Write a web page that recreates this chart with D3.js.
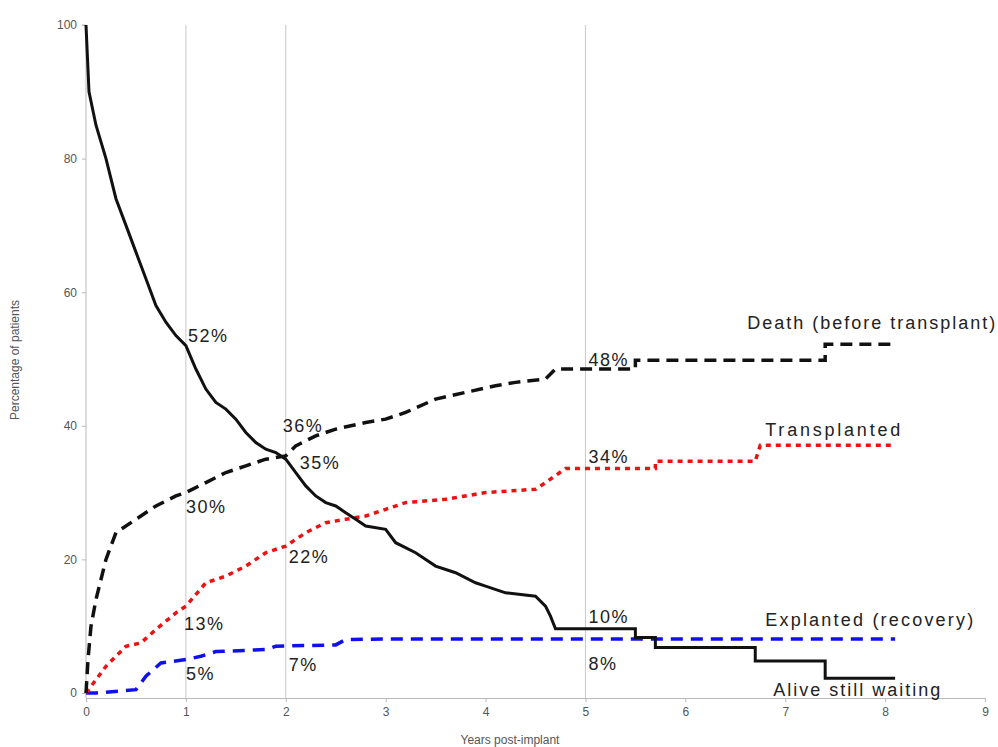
<!DOCTYPE html>
<html><head><meta charset="utf-8">
<script src="https://cdn.jsdelivr.net/npm/d3@7"></script>
<style>body{margin:0;background:#fff}svg{font-family:Arial,"Liberation Sans",sans-serif}</style>
</head><body><svg id="c" width="998" height="747"></svg>
<script>
const xTicks=[0,1,2,3,4,5,6,7,8,9];
const yTicks=[0,20,40,60,80,100];
const gridYears=[1,2,5];
const alive=[[0,100],[0.03,90],[0.1,85],[0.2,80],[0.3,74],[0.4,70],[0.5,66],[0.6,62],[0.7,58],[0.8,55.5],[0.9,53.5],[1.0,52],[1.1,48.5],[1.2,45.5],[1.3,43.5],[1.4,42.5],[1.5,41],[1.6,39],[1.7,37.5],[1.8,36.5],[1.9,36],[2.0,35],[2.1,33],[2.2,31],[2.3,29.5],[2.4,28.5],[2.5,28],[2.6,27],[2.7,26],[2.8,25],[3.0,24.5],[3.1,22.5],[3.3,21],[3.5,19],[3.7,18],[3.9,16.5],[4.0,16],[4.2,15],[4.5,14.5],[4.6,13],[4.65,11.5],[4.7,9.6],[5.5,9.6],[5.5,8.3],[5.7,8.3],[5.7,6.8],[6.7,6.8],[6.7,4.8],[7.4,4.8],[7.4,2.2],[8.1,2.2]];
const death=[[0,0],[0.02,5],[0.05,10],[0.1,14],[0.2,20],[0.3,24],[0.5,26],[0.7,28],[0.9,29.5],[1.0,30],[1.2,31.5],[1.4,33],[1.6,34],[1.8,35],[2.0,35.5],[2.1,37],[2.3,38.5],[2.5,39.5],[2.8,40.5],[3.0,41],[3.2,42],[3.5,44],[3.8,45],[4.1,46],[4.3,46.5],[4.6,47],[4.7,48.5],[5.5,48.5],[5.5,49.8],[7.4,49.8],[7.4,52.2],[8.1,52.2]];
const transplanted=[[0,0],[0.2,4],[0.4,7],[0.55,7.5],[0.7,9.5],[0.9,12],[1.0,13],[1.2,16.5],[1.4,17.5],[1.6,19],[1.8,21],[2.0,22],[2.2,24],[2.4,25.5],[2.6,26],[2.8,26.5],[3.0,27.5],[3.2,28.5],[3.6,29],[4.0,30],[4.5,30.5],[4.6,31.5],[4.8,33.6],[5.7,33.6],[5.7,34.7],[6.7,34.7],[6.75,37.1],[8.1,37.1]];
const explanted=[[0,0],[0.1,0],[0.5,0.5],[0.6,2.5],[0.75,4.5],[1.0,5],[1.15,5.5],[1.3,6.2],[1.8,6.5],[1.9,7],[2.5,7.2],[2.6,8],[3.0,8.1],[8.1,8.1]];
const pctLabels=[["52%",1.02,52.5],["36%",1.97,39],["35%",2.14,33.5],["30%",1.0,27],["22%",2.03,19.5],["13%",0.98,9.5],["5%",1.0,2],["7%",2.03,3.3],["48%",5.03,49],["34%",5.03,34.5],["10%",5.03,10.5],["8%",5.03,3.5]];
const seriesLabels=[["Death (before transplant)",6.62,54.5,248],["Transplanted",6.8,38.5,135],["Explanted (recovery)",6.8,10,208],["Alive still waiting",6.88,-0.5,167]];

const svg=d3.select("#c");
const x=d3.scaleLinear().domain([0,9]).range([86,985]);
const y=d3.scaleLinear().domain([0,100]).range([693,25]);
const gc="#b8b8b8";
svg.append("g").selectAll("line").data(gridYears).join("line")
 .attr("x1",d=>x(d)).attr("x2",d=>x(d)).attr("y1",y(100)).attr("y2",698).attr("stroke","#c8c8c8");
const xa=svg.append("g").attr("transform","translate(0,698)").call(d3.axisBottom(x).tickValues(xTicks).tickSize(4).tickPadding(5));
const ya=svg.append("g").attr("transform","translate(86,0)").call(d3.axisLeft(y).tickValues(yTicks).tickSize(4).tickPadding(5));
[xa,ya].forEach(a=>{a.select(".domain").attr("stroke",gc);a.selectAll("line").attr("stroke",gc);a.selectAll("text").attr("fill","#555").attr("font-size",12);});
ya.select(".domain").attr("d","M-4,"+y(100)+"H0V698");
svg.append("text").attr("x",510).attr("y",744).attr("text-anchor","middle").attr("font-size",12).attr("fill","#555").text("Years post-implant");
svg.append("text").attr("transform","translate(19,360) rotate(-90)").attr("text-anchor","middle").attr("font-size",12).attr("fill","#555").text("Percentage of patients");
const line=d3.line().x(d=>x(d[0])).y(d=>y(d[1]));
const S=[[explanted,"#1010ee","12,8",3.5],[transplanted,"#ee1111","5,5",3.5],[death,"#111","12,7",3.5],[alive,"#111",null,3]];
S.forEach(([d,c,da,w])=>svg.append("path").datum(d).attr("d",line).attr("fill","none").attr("stroke",c).attr("stroke-width",w).attr("stroke-dasharray",da));
svg.append("g").selectAll("text").data(pctLabels).join("text").attr("x",d=>x(d[1])).attr("y",d=>y(d[2])).attr("font-size",18).attr("letter-spacing",1.5).attr("fill","#222").text(d=>d[0]);
svg.append("g").selectAll("text").data(seriesLabels).join("text").attr("x",d=>x(d[1])).attr("y",d=>y(d[2])).attr("font-size",18).attr("textLength",d=>d[3]).attr("lengthAdjust","spacing").attr("fill","#222").text(d=>d[0]);
</script></body></html>
